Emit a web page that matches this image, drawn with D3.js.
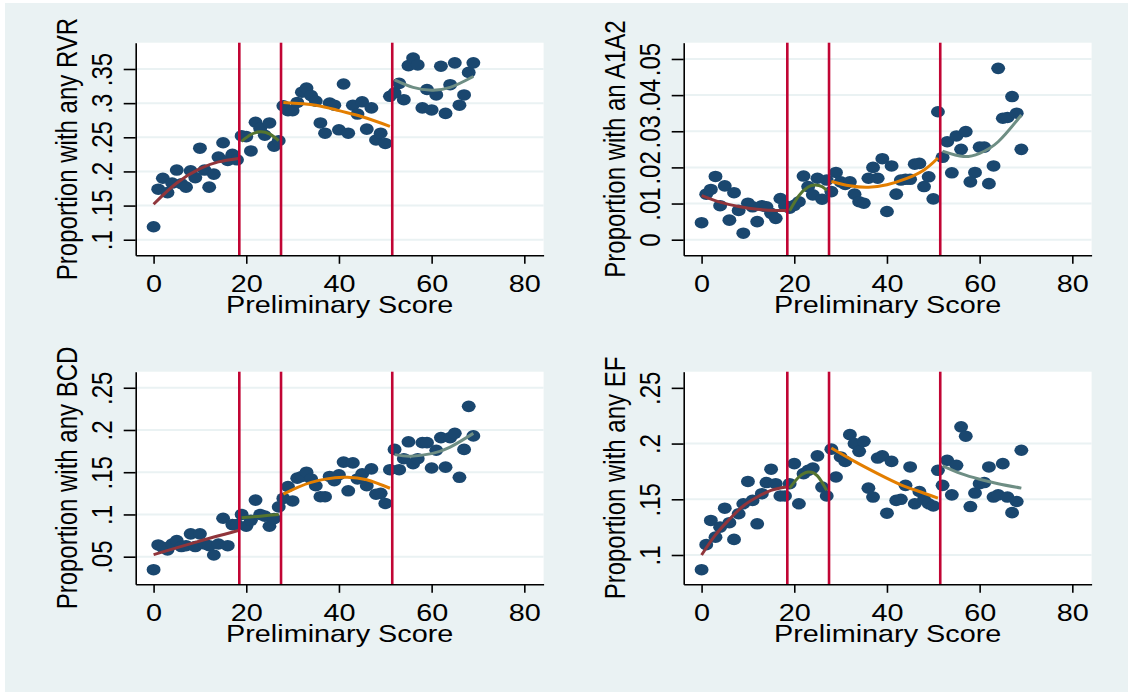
<!DOCTYPE html>
<html>
<head>
<meta charset="utf-8">
<script src="https://cdn.jsdelivr.net/npm/d3@7"></script>
<style>
  html, body { margin: 0; padding: 0; background: #ffffff; }
  svg { display: block; }
</style>
</head>
<body>
<svg id="chart" width="1128" height="692"></svg>
<script>
// ---- Data -------------------------------------------------------------
const scores = [0,1,2,3,4,5,6,7,8,9,10,11,12,13,14,15,16,17,18,19,
  20,21,22,23,24,25,26,27,28,29,30,31,32,33,34,35,36,37,38,39,
  40,41,42,43,44,45,46,47,48,49,50,51,52,53,54,55,56,57,58,59,
  60,61,62,63,64,65,66,67,68,69];

const anyRVR = [0.119,0.174,0.190,0.169,0.183,0.202,0.182,0.177,0.201,0.191,
  0.234,0.202,0.177,0.196,0.221,0.242,0.216,0.225,0.217,0.252,
  0.251,0.230,0.272,0.263,0.253,0.271,0.237,0.245,0.296,0.289,
  0.289,0.301,0.316,0.322,0.311,0.303,0.271,0.256,0.300,0.297,
  0.261,0.328,0.256,0.297,0.284,0.302,0.262,0.293,0.246,0.256,
  0.241,0.310,0.315,0.329,0.305,0.355,0.366,0.356,0.293,0.320,
  0.290,0.312,0.354,0.285,0.327,0.359,0.297,0.312,0.345,0.359];

const anA1A2 = [0.0047,0.0126,0.0139,0.0175,0.0094,0.0149,0.0054,0.0130,0.0081,0.0018,
  0.0101,0.0091,0.0050,0.0094,0.0091,0.0073,0.0059,0.0114,0.0094,0.0087,
  0.0095,0.0105,0.0176,0.0147,0.0124,0.0170,0.0112,0.0165,0.0133,0.0186,
  0.0160,0.0153,0.0160,0.0126,0.0105,0.0101,0.0170,0.0200,0.0170,0.0224,
  0.0078,0.0204,0.0126,0.0165,0.0167,0.0167,0.0209,0.0211,0.0147,0.0174,
  0.0113,0.0354,0.0228,0.0271,0.0185,0.0287,0.0250,0.0299,0.0160,0.0186,
  0.0256,0.0256,0.0155,0.0204,0.0474,0.0336,0.0338,0.0396,0.0350,0.0250];

const anyBCD = [0.0346,0.0639,0.061,0.058,0.065,0.069,0.062,0.063,0.077,0.062,
  0.077,0.065,0.063,0.052,0.065,0.0955,0.063,0.088,0.088,0.100,
  0.086,0.093,0.117,0.100,0.098,0.086,0.095,0.109,0.119,0.133,
  0.116,0.143,0.145,0.150,0.142,0.134,0.121,0.121,0.145,0.140,
  0.147,0.162,0.128,0.161,0.142,0.148,0.134,0.154,0.124,0.125,
  0.113,0.153,0.177,0.153,0.166,0.186,0.160,0.166,0.185,0.185,
  0.155,0.176,0.191,0.156,0.191,0.196,0.144,0.177,0.228,0.193];

const anyEF = [0.0868,0.1093,0.131,0.116,0.125,0.142,0.129,0.114,0.137,0.146,
  0.166,0.149,0.128,0.155,0.165,0.177,0.164,0.153,0.153,0.164,
  0.182,0.146,0.173,0.176,0.178,0.189,0.161,0.153,0.195,0.170,
  0.188,0.184,0.208,0.200,0.193,0.202,0.160,0.152,0.187,0.189,
  0.1375,0.184,0.149,0.150,0.1625,0.179,0.146,0.157,0.150,0.146,
  0.144,0.176,0.1625,0.185,0.154,0.1805,0.215,0.2066,0.1435,0.1556,
  0.164,0.165,0.179,0.152,0.154,0.182,0.152,0.138,0.148,0.194];

// Cut-off scores marked with vertical lines
const cutoffs = [18.5, 27.5, 51.5];

// Quadratic fits within each score band: [score, fitted proportion]
const rvrFits = [
  [[0,0.152],[5,0.183],[10,0.204],[14,0.214],[18.3,0.219]],
  [[19,0.244],[21,0.254],[23,0.258],[25,0.255],[27,0.245]],
  [[28,0.301],[35,0.297],[40,0.289],[45,0.280],[51,0.266]],
  [[52,0.334],[56,0.323],[60,0.319],[64,0.323],[69,0.339]]
];
const a1a2Fits = [
  [[0,0.0122],[4,0.0104],[8,0.0092],[12,0.0084],[16,0.0081],[18.3,0.0081]],
  [[19,0.0080],[21,0.0122],[23,0.0146],[24.5,0.0151],[26,0.0147],[27,0.0136]],
  [[28,0.0161],[32,0.0149],[36,0.0145],[40,0.0152],[44,0.0168],[48,0.0193],[51,0.0226]],
  [[52,0.0245],[56.5,0.0230],[60,0.0239],[64,0.0271],[69,0.0345]]
];
const bcdFits = [
  [[0,0.0524],[9,0.067],[18.3,0.081]],
  [[19,0.096],[23,0.098],[27,0.100]],
  [[28,0.124],[34,0.138],[41,0.144],[46,0.141],[51,0.131]],
  [[52,0.1708],[55.5,0.169],[60,0.172],[64,0.1797],[69,0.196]]
];
const efFits = [
  [[0,0.100],[3,0.118],[6,0.132],[9,0.144],[12,0.152],[15,0.158],[18.3,0.161]],
  [[19,0.160],[21,0.170],[23,0.1745],[25,0.171],[27,0.158]],
  [[28,0.196],[33,0.184],[38,0.173],[43,0.163],[47,0.157],[51,0.151]],
  [[52,0.180],[56,0.173],[60,0.168],[64,0.164],[69,0.160]]
];

// Axis ticks
const xTicks = [0, 20, 40, 60, 80];
const rvrTicks = [0.1, 0.15, 0.2, 0.25, 0.3, 0.35];
const rvrTickLabels = [".1", ".15", ".2", ".25", ".3", ".35"];
const a1a2Ticks = [0, 0.01, 0.02, 0.03, 0.04, 0.05];
const a1a2TickLabels = ["0", ".01", ".02", ".03", ".04", ".05"];
const bcdTicks = [0.05, 0.1, 0.15, 0.2, 0.25];
const bcdTickLabels = [".05", ".1", ".15", ".2", ".25"];
const efTicks = [0.1, 0.15, 0.2, 0.25];
const efTickLabels = [".1", ".15", ".2", ".25"];

// ---- Layout & style ---------------------------------------------------
const W = 1128, H = 692;
const frame = { left: 135.7, right: 543.6, top: 42.7, bottom: 255.3 };
const colStep = 548, rowStep = 329;
const SX = 1.2;                       // horizontal stretch of lettering and markers
const FONT = "'Liberation Sans', Arial, Helvetica, sans-serif";
const BG = "#EAF2F3";
const NAVY = "#1A476F";
const CRANBERRY = "#C10534";
const fitColors = ["#90353B", "#55752F", "#E37E00", "#6E8E84"];
const xDomain = [-3.86, 84.16];

const panels = [
  { col: 0, row: 0, title: "Proportion with any RVR", values: anyRVR, fits: rvrFits,
    ticks: rvrTicks, labels: rvrTickLabels, grid: rvrTicks, domain: [0.0772, 0.3885] },
  { col: 1, row: 0, title: "Proportion with an A1A2", values: anA1A2, fits: a1a2Fits,
    ticks: a1a2Ticks, labels: a1a2TickLabels, grid: a1a2Ticks, domain: [-0.00432, 0.0545] },
  { col: 0, row: 1, title: "Proportion with any BCD", values: anyBCD, fits: bcdFits,
    ticks: bcdTicks, labels: bcdTickLabels, grid: bcdTicks, domain: [0.0173, 0.269] },
  { col: 1, row: 1, title: "Proportion with any EF", values: anyEF, fits: efFits,
    ticks: efTicks, labels: efTickLabels, grid: efTicks.slice(0, 3), domain: [0.0737, 0.2645] }
];

// ---- Drawing ----------------------------------------------------------
const svg = d3.select("#chart");
svg.append("rect")
  .attr("x", 5).attr("y", 3)
  .attr("width", W - 5).attr("height", H - 3)
  .attr("fill", BG);

panels.forEach(p => {
  const g = svg.append("g")
    .attr("transform", `translate(${p.col * colStep},${p.row * rowStep})`);

  const x = d3.scaleLinear().domain(xDomain).range([frame.left, frame.right]);
  const y = d3.scaleLinear().domain(p.domain).range([frame.bottom, frame.top]);

  // plot region
  g.append("rect")
    .attr("x", frame.left).attr("y", frame.top)
    .attr("width", frame.right - frame.left)
    .attr("height", frame.bottom - frame.top)
    .attr("fill", "#ffffff");

  // horizontal grid
  g.append("g").selectAll("line").data(p.grid).join("line")
    .attr("x1", frame.left).attr("x2", frame.right)
    .attr("y1", d => y(d)).attr("y2", d => y(d))
    .attr("stroke", BG).attr("stroke-width", 2);

  // binned proportions
  g.append("g").selectAll("ellipse").data(scores).join("ellipse")
    .attr("cx", (d) => x(d))
    .attr("cy", (d, i) => y(p.values[i]))
    .attr("rx", 5.8 * SX).attr("ry", 5.8)
    .attr("fill", NAVY);

  // quadratic fits per band
  const line = d3.line()
    .x(d => x(d[0])).y(d => y(d[1]))
    .curve(d3.curveNatural);
  g.append("g").selectAll("path").data(p.fits).join("path")
    .attr("d", line)
    .attr("fill", "none")
    .attr("stroke", (d, i) => fitColors[i])
    .attr("stroke-width", 3);

  // cut-off lines
  g.append("g").selectAll("line").data(cutoffs).join("line")
    .attr("x1", d => x(d)).attr("x2", d => x(d))
    .attr("y1", frame.top).attr("y2", frame.bottom)
    .attr("stroke", CRANBERRY).attr("stroke-width", 2.6);

  // x axis
  const xAxis = g.append("g")
    .attr("transform", `translate(0,${frame.bottom})`)
    .call(d3.axisBottom(x).tickValues(xTicks).tickSize(8.5).tickSizeOuter(0).tickFormat(d => d));
  // y axis
  const yAxis = g.append("g")
    .attr("transform", `translate(${frame.left},0)`)
    .call(d3.axisLeft(y).tickValues(p.ticks).tickSize(12).tickSizeOuter(0)
      .tickFormat((d, i) => p.labels[i]));

  [xAxis, yAxis].forEach(a => {
    a.select(".domain").attr("stroke", "#000").attr("stroke-width", 1.6);
    a.selectAll(".tick line").attr("stroke", "#000").attr("stroke-width", 1.6);
    a.selectAll("text")
      .attr("font-family", FONT).attr("font-size", 24).attr("fill", "#000");
  });

  xAxis.selectAll(".tick text")
    .attr("y", 36.4).attr("dy", null)
    .attr("text-anchor", "middle")
    .attr("transform", `scale(${SX},1)`);

  yAxis.selectAll(".tick text")
    .attr("x", 0).attr("dy", null)
    .attr("text-anchor", "middle")
    .attr("transform", `translate(-24,0) scale(${SX},1) rotate(-90)`);

  // axis titles
  g.append("text")
    .attr("transform", `translate(${(frame.left + frame.right) / 2},313.3) scale(${SX},1)`)
    .attr("text-anchor", "middle")
    .attr("font-family", FONT).attr("font-size", 24).attr("fill", "#000")
    .text("Preliminary Score");

  g.append("text")
    .attr("transform", `translate(76.5,${(frame.top + frame.bottom) / 2}) scale(${SX},1) rotate(-90)`)
    .attr("text-anchor", "middle")
    .attr("font-family", FONT).attr("font-size", 24).attr("fill", "#000")
    .text(p.title);
});
</script>
</body>
</html>
